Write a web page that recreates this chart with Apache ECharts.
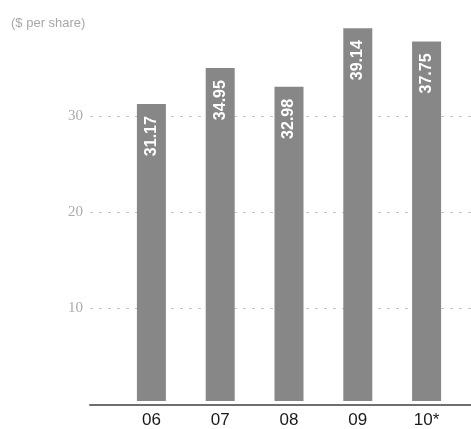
<!DOCTYPE html>
<html>
<head>
<meta charset="utf-8">
<script src="https://cdn.jsdelivr.net/npm/echarts@6/dist/echarts.min.js"></script>
<style>
  html, body { margin: 0; padding: 0; background: #fff; }
  #chart { width: 471px; height: 429px; }
</style>
</head>
<body>
<div id="chart"></div>
<script>
// Dividends / value per share by year
const years = ['06', '07', '08', '09', '10*'];
const perShare = [31.17, 34.95, 32.98, 39.14, 37.75];
const yTicks = [10, 20, 30];
const unitLabel = '($ per share)';

const chart = echarts.init(document.getElementById('chart'), null, { renderer: 'canvas' });

const plotTop = 20, plotBottom = 24.5;
const yMin = 0, yMax = 40;

chart.setOption({
  animation: false,
  backgroundColor: '#ffffff',
  title: {
    text: unitLabel,
    left: 6, top: 12,
    textStyle: { fontFamily: 'Liberation Sans', fontSize: 13, fontWeight: 'normal', color: '#a8a8a8' }
  },
  grid: [
    // frame: baseline rule, gridlines and value labels
    { left: 90, right: 0, top: plotTop, bottom: plotBottom },
    // bars
    { left: 117, right: 10, top: plotTop, bottom: plotBottom }
  ],
  xAxis: [
    {
      gridIndex: 0, type: 'value', min: 0, max: 1,
      axisLine: { show: true, lineStyle: { color: '#6e6e6e', width: 2 } },
      axisTick: { show: false }, axisLabel: { show: false }, splitLine: { show: false }
    },
    {
      gridIndex: 1, type: 'category', data: years,
      axisLine: { show: false }, axisTick: { show: false },
      axisLabel: {
        margin: 11,
        fontFamily: 'Liberation Sans', fontSize: 17, color: '#1a1a1a'
      }
    }
  ],
  yAxis: [
    {
      gridIndex: 0, type: 'value', min: yMin, max: yMax, interval: 10,
      axisLine: { show: false }, axisTick: { show: false },
      axisLabel: {
        margin: 7,
        fontFamily: 'Liberation Serif', fontSize: 15, color: '#ababab',
        formatter: v => (yTicks.indexOf(v) >= 0 ? String(v) : '')
      },
      splitLine: {
        show: true, showMinLine: false, showMaxLine: false,
        lineStyle: { color: '#c4c4c4', width: 1, type: [3, 6] }
      }
    },
    {
      gridIndex: 1, type: 'value', min: yMin, max: yMax, interval: 10,
      show: false, splitLine: { show: false }
    }
  ],
  series: [
    {
      type: 'bar',
      xAxisIndex: 1, yAxisIndex: 1,
      data: perShare,
      barWidth: 29,
      itemStyle: { color: '#878787' },
      label: {
        show: true,
        position: 'insideTop',
        rotate: 90,
        align: 'right',
        verticalAlign: 'middle',
        distance: 12,
        formatter: p => p.value.toFixed(2),
        fontFamily: 'Liberation Sans', fontSize: 16, fontWeight: 'bold', color: '#ffffff'
      }
    }
  ]
});
</script>
</body>
</html>
